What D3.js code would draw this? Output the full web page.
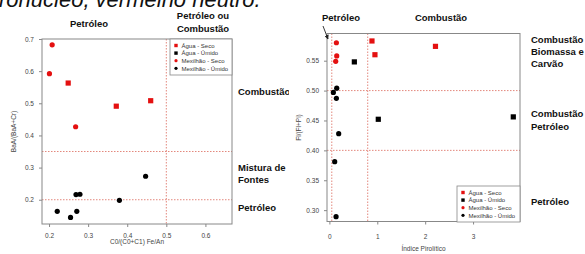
<!DOCTYPE html>
<html>
<head>
<meta charset="utf-8">
<script src="https://cdn.jsdelivr.net/npm/d3@7"></script>
<style>
body { margin: 0; background: #fff; }
text { font-family: "Liberation Sans", Arial, sans-serif; }
</style>
</head>
<body>
<script>
// painel esquerdo: C0/(C0+C1) Fe/An vs BaA/(BaA+Cr)
var aguaSecoE = [[0.249, 0.563], [0.372, 0.491], [0.460, 0.508]];
var aguaUmidoE = [];
var mexSecoE = [[0.208, 0.682], [0.201, 0.592], [0.268, 0.427]];
var mexUmidoE = [[0.447, 0.273], [0.380, 0.198], [0.269, 0.216], [0.279, 0.217],
                 [0.221, 0.164], [0.271, 0.164], [0.255, 0.145]];
var xTicksE = [0.2, 0.3, 0.4, 0.5, 0.6];
var yTicksE = [0.2, 0.3, 0.4, 0.5, 0.6, 0.7];
var vLinhasE = [0.5];
var hLinhasE = [0.35, 0.2];

// painel direito: Indice Pirolitico vs Fl/(Fl+Pi)
var aguaSecoD = [[0.889, 0.583], [0.951, 0.560], [2.215, 0.574]];
var aguaUmidoD = [[0.521, 0.548], [1.021, 0.452], [3.84, 0.456]];
var mexSecoD = [[0.146, 0.580], [0.153, 0.558], [0.132, 0.549]];
var mexUmidoD = [[0.153, 0.504], [0.083, 0.497], [0.146, 0.487], [0.194, 0.428],
                 [0.111, 0.381], [0.139, 0.289]];
var xTicksD = [0, 1, 2, 3];
var yTicksD = [0.30, 0.35, 0.40, 0.45, 0.50, 0.55];
var vLinhasD = [0.05, 0.8];
var hLinhasD = [0.5, 0.4];

var legenda = ["Água - Seco", "Água - Úmido", "Mexilhão - Seco", "Mexilhão - Úmido"];
var vermelho = "#e41010";

var svg = d3.select("body").append("svg")
    .attr("width", 585)
    .attr("height", 254);

function painel(cfg) {
    var x = d3.scaleLinear().domain(cfg.xdom).range([cfg.left, cfg.right]);
    var y = d3.scaleLinear().domain(cfg.ydom).range([cfg.bottom, cfg.top]);
    var g = svg.append("g");

    // linhas de referencia
    cfg.vl.forEach(function(v) {
        g.append("line")
            .attr("x1", x(v)).attr("x2", x(v))
            .attr("y1", cfg.top).attr("y2", cfg.bottom)
            .attr("stroke", "#dc6a5c").attr("stroke-width", 0.8)
            .attr("stroke-dasharray", "1.5,1.5");
    });
    cfg.hl.forEach(function(v) {
        g.append("line")
            .attr("x1", cfg.left).attr("x2", cfg.right)
            .attr("y1", y(v)).attr("y2", y(v))
            .attr("stroke", "#dc6a5c").attr("stroke-width", 0.8)
            .attr("stroke-dasharray", "1.5,1.5");
    });

    g.append("rect")
        .attr("x", cfg.left).attr("y", cfg.top)
        .attr("width", cfg.right - cfg.left).attr("height", cfg.bottom - cfg.top)
        .attr("fill", "none").attr("stroke", "#888").attr("stroke-width", 1);

    var ax = g.append("g")
        .attr("transform", "translate(0," + cfg.bottom + ")")
        .call(d3.axisBottom(x).tickValues(cfg.xt).tickSize(3).tickPadding(cfg.xpad).tickFormat(cfg.xf));
    var ay = g.append("g")
        .attr("transform", "translate(" + cfg.left + ",0)")
        .call(d3.axisLeft(y).tickValues(cfg.yt).tickSize(3).tickPadding(5).tickFormat(cfg.yf));
    [ax, ay].forEach(function(a) {
        a.select(".domain").remove();
        a.selectAll("line").attr("stroke", "#888");
        a.selectAll("text").attr("font-size", 6.5).attr("fill", "#444")
            .attr("font-family", "Liberation Sans, Arial, sans-serif");
    });

    g.append("text")
        .attr("x", (cfg.left + cfg.right) / 2).attr("y", cfg.bottom + cfg.xlabdy)
        .attr("text-anchor", "middle").attr("font-size", 6.5).attr("fill", "#444")
        .text(cfg.xlab);
    g.append("text")
        .attr("transform", "translate(" + cfg.ylabx + "," + (cfg.top + cfg.bottom) / 2 + ") rotate(-90)")
        .attr("text-anchor", "middle").attr("font-size", 6.5).attr("fill", "#444")
        .text(cfg.ylab);

    function quadrados(dados, cor) {
        g.selectAll(null).data(dados).enter().append("rect")
            .attr("x", function(d) { return x(d[0]) - 2.6; })
            .attr("y", function(d) { return y(d[1]) - 2.6; })
            .attr("width", 5.2).attr("height", 5.2)
            .attr("fill", cor);
    }
    function circulos(dados, cor) {
        g.selectAll(null).data(dados).enter().append("circle")
            .attr("cx", function(d) { return x(d[0]); })
            .attr("cy", function(d) { return y(d[1]); })
            .attr("r", 2.6)
            .attr("fill", cor);
    }
    quadrados(cfg.s1, vermelho);
    quadrados(cfg.s2, "#000");
    circulos(cfg.s3, vermelho);
    circulos(cfg.s4, "#000");

    // legenda
    var lg = g.append("g");
    lg.append("rect")
        .attr("x", cfg.lx).attr("y", cfg.ly)
        .attr("width", cfg.right - cfg.lx).attr("height", 36)
        .attr("fill", "#fff").attr("stroke", "#888").attr("stroke-width", 0.8);
    legenda.forEach(function(nome, i) {
        var yy = cfg.ly + 6.5 + i * 7.6;
        var cor = (i % 2 == 0) ? vermelho : "#000";
        if (i < 2) {
            lg.append("rect")
                .attr("x", cfg.lx + 4.3).attr("y", yy - 1.7).attr("width", 3.4).attr("height", 3.4)
                .attr("fill", cor);
        } else {
            lg.append("circle")
                .attr("cx", cfg.lx + 6).attr("cy", yy).attr("r", 1.6)
                .attr("fill", cor);
        }
        lg.append("text")
            .attr("x", cfg.lx + 11.5).attr("y", yy + 2.2)
            .attr("font-size", 6).attr("fill", "#333")
            .text(nome);
    });
}

painel({
    left: 42, right: 232, top: 39, bottom: 224,
    xdom: [0.182, 0.668], ydom: [0.1245, 0.7],
    xt: xTicksE, yt: yTicksE, xf: d3.format(".1f"), yf: d3.format(".1f"),
    vl: vLinhasE, hl: hLinhasE, xpad: 6, xlabdy: 20,
    xlab: "C0/(C0+C1) Fe/An", ylab: "BaA/(BaA+Cr)", ylabx: 16,
    s1: aguaSecoE, s2: aguaUmidoE, s3: mexSecoE, s4: mexUmidoE,
    lx: 170, ly: 39
});

// rotulos do painel esquerdo
function negrito(txt, x, y, anchor) {
    svg.append("text")
        .attr("x", x).attr("y", y)
        .attr("text-anchor", anchor || "start")
        .attr("font-size", 9.5).attr("font-weight", "bold").attr("fill", "#111")
        .text(txt);
}
negrito("Petróleo", 89, 27, "middle");
negrito("Petróleo ou", 203, 19, "middle");
negrito("Combustão", 203, 32, "middle");
negrito("Combustão", 238, 95);
negrito("Mistura de", 238, 171);
negrito("Fontes", 238, 183);
negrito("Petróleo", 238, 211);

// o painel direito cobre a borda do esquerdo
svg.append("rect").attr("x", 289).attr("y", 12).attr("width", 296).attr("height", 242).attr("fill", "#fff");

painel({
    left: 327, right: 520, top: 33.5, bottom: 221.5,
    xdom: [-0.05, 3.98], ydom: [0.281, 0.5955],
    xt: xTicksD, yt: yTicksD, xf: d3.format("d"), yf: d3.format(".2f"),
    vl: vLinhasD, hl: hLinhasD, xpad: 10, xlabdy: 29,
    xlab: "Índice Pirolítico", ylab: "Fl/(Fl+Pi)", ylabx: 301,
    s1: aguaSecoD, s2: aguaUmidoD, s3: mexSecoD, s4: mexUmidoD,
    lx: 457, ly: 186
});

negrito("Petróleo", 322, 21);
negrito("Combustão", 441, 21, "middle");
negrito("Combustão", 531, 43);
negrito("Biomassa e", 531, 55);
negrito("Carvão", 531, 67);
negrito("Combustão", 531, 117);
negrito("Petróleo", 531, 130);
negrito("Petróleo", 531, 205);

// seta
svg.append("defs").append("marker")
    .attr("id", "ponta").attr("viewBox", "0 0 10 10")
    .attr("refX", 9).attr("refY", 5)
    .attr("markerWidth", 5).attr("markerHeight", 5)
    .attr("orient", "auto")
    .append("path").attr("d", "M0,0L10,5L0,10z").attr("fill", "#222");
svg.append("line")
    .attr("x1", 323).attr("y1", 26).attr("x2", 328).attr("y2", 39)
    .attr("stroke", "#222").attr("stroke-width", 0.9)
    .attr("marker-end", "url(#ponta)");

// texto cortado no topo
svg.append("text")
    .attr("x", -1).attr("y", 7)
    .attr("font-size", 22).attr("font-style", "italic").attr("fill", "#111")
    .text("ronucleo, vermelho neutro.");
</script>
</body>
</html>
